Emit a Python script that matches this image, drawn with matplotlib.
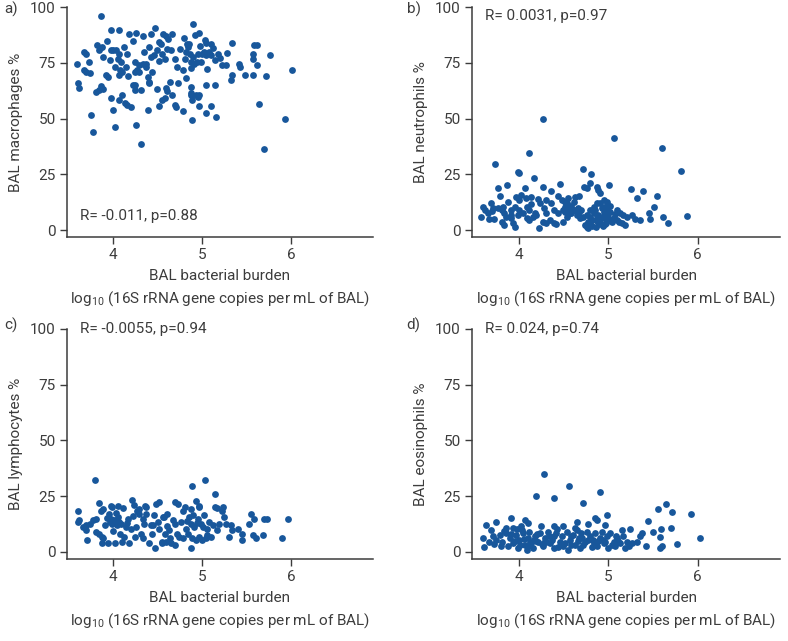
import matplotlib as mpl
mpl.use('Agg')
import matplotlib.pyplot as plt

mpl.rcParams['font.family'] = ['Roboto', 'DejaVu Sans']
mpl.rcParams['mathtext.fontset'] = 'custom'
mpl.rcParams['mathtext.rm'] = 'Roboto'

# a) macrophages
mac_x = [3.86, 3.97, 4.07, 4.18, 4.26, 4.33, 4.47, 4.42, 4.56, 4.66, 4.59, 4.90, 4.96, 4.92, 5.03,
         5.04, 5.10, 5.34, 5.58, 5.62, 5.76, 6.01, 3.59, 3.67, 3.69, 3.73, 3.67, 3.69, 3.74, 3.60,
         3.62, 3.82, 3.85, 3.87, 3.84, 3.93, 3.96, 3.97, 4.00, 4.03, 4.07, 4.05, 4.09, 4.08, 4.06,
         4.10, 4.16, 4.17, 4.22, 4.25, 4.27, 4.29, 4.33, 4.37, 4.37, 4.40, 4.42, 4.46, 4.49, 4.52,
         4.54, 4.55, 4.58, 4.60, 4.65, 4.69, 4.72, 4.78, 4.81, 4.82, 4.83, 4.85, 4.84, 4.86, 4.88,
         4.91, 4.94, 4.95, 4.99, 5.00, 5.02, 5.04, 5.08, 5.10, 5.15, 5.18, 5.22, 5.27, 5.28, 5.42,
         5.43, 5.34, 5.32, 5.48, 5.57, 5.57, 5.57, 5.62, 5.72, 3.94, 3.92, 3.81, 3.84, 3.86, 3.88,
         3.97, 4.00, 4.02, 4.06, 4.10, 4.13, 4.16, 4.20, 4.22, 4.25, 4.31, 4.26, 4.31, 4.39, 4.40,
         4.49, 4.51, 4.55, 4.58, 4.59, 4.60, 4.64, 4.66, 4.70, 4.71, 4.73, 4.78, 4.82, 4.87, 4.88,
         4.89, 4.87, 4.89, 4.93, 4.95, 4.97, 4.96, 5.04, 5.04, 5.10, 5.15, 5.16, 5.64, 5.70, 5.93,
         3.75, 3.77, 4.40, 4.39, 4.25, 4.24, 4.29, 3.89, 4.12, 4.14, 4.35, 4.51, 4.62, 4.75, 4.87,
         4.98, 5.06, 5.12, 5.20, 4.44, 4.02, 4.80, 4.90]
mac_y = [95.8, 89.9, 89.6, 87.8, 88.5, 86.9, 90.6, 88.1, 88.1, 88.1, 86.9, 92.5, 88.5, 87.6, 85.1,
         83.9, 83.6, 84.0, 83.1, 83.1, 78.4, 71.6, 74.6, 79.9, 79.1, 75.4, 71.6, 70.9, 70.4, 66.0,
         63.9, 82.8, 81.6, 82.1, 80.6, 84.8, 76.1, 80.9, 80.6, 80.9, 79.1, 76.9, 75.4, 71.6, 69.4,
         70.9, 79.1, 69.0, 84.8, 75.4, 71.6, 73.9, 74.6, 74.6, 73.1, 82.1, 77.6, 78.4, 80.6, 84.3,
         83.6, 79.1, 76.9, 81.3, 80.9, 76.9, 73.1, 71.9, 76.9, 79.9, 83.6, 83.6, 82.1, 79.1, 75.4,
         74.6, 75.4, 79.1, 75.4, 79.1, 79.9, 78.4, 79.9, 78.4, 76.1, 79.1, 73.9, 73.9, 79.4, 74.6,
         73.1, 69.4, 67.2, 69.4, 69.4, 79.1, 76.9, 73.9, 69.0, 68.7, 69.4, 61.9, 63.0, 64.5, 63.4,
         59.0, 53.7, 46.0, 58.2, 60.7, 57.0, 56.0, 55.2, 64.9, 62.7, 63.0, 47.0, 38.4, 54.0, 66.0,
         63.4, 55.5, 58.2, 59.0, 63.9, 62.4, 66.4, 60.7, 56.0, 55.2, 66.0, 53.4, 68.2, 64.2, 60.4,
         58.2, 61.5, 49.3, 60.4, 59.7, 60.7, 55.5, 64.9, 52.5, 55.5, 64.9, 50.7, 56.7, 36.4, 49.9,
         51.5, 43.9, 66.4, 68.7, 64.9, 70.9, 70.9, 77.5, 82.0, 73.0, 80.0, 76.0, 85.5, 81.0, 72.5,
         82.5, 72.0, 81.5, 77.0, 71.0, 73.0, 86.0, 77.5]

# b) neutrophils
neu_x = [4.27, 5.07, 5.60, 4.12, 3.74, 5.81, 5.88, 5.67, 5.61, 4.72, 4.81, 5.01, 5.25, 5.39, 5.32,
         5.54, 5.51, 5.46, 5.47, 5.36, 3.99, 4.00, 4.17, 4.46, 4.36, 4.27, 4.07, 3.87, 3.77, 3.79,
         3.97, 4.03, 4.08, 4.14, 4.22, 4.24, 4.31, 4.36, 4.44, 4.48, 4.52, 4.55, 4.57, 4.63, 4.67,
         4.73, 4.76, 4.80, 4.87, 4.89, 4.91, 4.95, 4.99, 5.02, 5.10, 5.13, 5.17, 5.21, 5.27, 3.60,
         3.62, 3.66, 3.69, 3.71, 3.58, 3.67, 3.73, 3.82, 3.84, 3.94, 3.96, 3.92, 3.99, 4.01, 4.05,
         4.09, 4.12, 4.16, 4.20, 4.23, 4.27, 4.31, 4.35, 4.39, 4.42, 4.50, 4.54, 4.57, 4.61, 4.65,
         4.69, 4.72, 4.74, 4.76, 4.78, 4.80, 4.82, 4.84, 4.85, 4.87, 4.89, 4.91, 4.93, 4.95, 4.97,
         4.99, 5.00, 5.02, 5.06, 5.10, 5.12, 5.15, 5.19, 3.83, 3.88, 3.92, 3.96, 4.09, 4.12, 4.18,
         4.31, 4.40, 4.44, 4.50, 4.52, 4.54, 4.55, 4.59, 4.63, 4.67, 4.70, 4.76, 4.80, 4.84, 4.87,
         4.91, 4.93, 4.95, 4.99, 5.02, 3.92, 4.01, 3.77, 3.81, 3.84, 3.86, 4.78, 4.82, 4.86, 4.90,
         4.94, 4.98, 4.80, 4.88, 4.96, 5.04, 4.58, 4.62, 4.66, 4.52, 5.08, 4.28, 4.14, 3.70, 5.30]
neu_y = [50.0, 41.4, 36.9, 34.7, 29.4, 26.6, 6.1, 3.0, 6.0, 27.2, 25.1, 20.2, 18.2, 17.5, 14.5,
         15.2, 10.2, 7.5, 4.8, 4.5, 26.2, 25.4, 23.3, 20.6, 17.6, 19.1, 18.7, 20.2, 19.0, 15.4,
         14.9, 15.7, 14.2, 14.9, 13.9, 12.0, 13.5, 12.0, 15.2, 13.5, 12.7, 14.5, 10.5, 14.9, 15.4,
         19.4, 18.7, 20.9, 19.1, 17.9, 16.4, 13.5, 12.7, 10.8, 9.0, 7.5, 6.7, 6.0, 6.7, 10.5,
         9.0, 7.5, 12.0, 9.7, 5.7, 4.9, 4.9, 3.7, 2.2, 3.0, 1.5, 5.2, 6.7, 9.0, 7.5,
         5.2, 4.5, 6.0, 6.7, 0.9, 3.7, 3.0, 4.5, 3.3, 2.7, 3.7, 6.0, 7.5, 9.0, 6.7,
         5.2, 6.0, 2.2, 1.5, 3.7, 3.0, 4.5, 7.5, 9.0, 5.2, 6.7, 3.7, 6.0, 8.2, 5.2,
         7.5, 6.0, 4.5, 5.2, 4.5, 3.7, 3.3, 2.2, 10.5, 12.7, 9.0, 10.5, 10.5, 9.0, 7.5,
         7.5, 9.0, 7.5, 9.0, 10.5, 12.0, 9.0, 7.5, 9.0, 8.2, 9.0, 6.7, 9.0, 10.5, 12.0,
         12.0, 9.7, 10.5, 9.7, 8.2, 6.7, 13.5, 9.7, 9.0, 7.5, 6.0, 1.0, 2.0, 1.2, 2.5,
         1.8, 3.0, 5.8, 4.2, 2.8, 3.5, 11.0, 12.5, 10.0, 8.0, 7.0, 10.0, 11.5, 8.5, 5.0]

# c) lymphocytes
lym_x = [3.79, 5.03, 4.89, 5.15, 3.84, 3.88, 3.98, 4.05, 4.11, 4.21, 4.23, 4.29, 4.36, 4.37, 4.48,
         4.52, 4.69, 4.73, 4.81, 4.88, 4.93, 4.96, 5.17, 5.24, 3.60, 3.62, 3.60, 3.69, 3.69, 3.71,
         3.74, 3.81, 3.87, 3.87, 3.89, 3.91, 3.94, 3.95, 3.96, 3.97, 3.99, 4.01, 4.02, 4.04, 4.05,
         4.07, 4.09, 4.08, 4.10, 4.12, 4.14, 4.17, 4.18, 4.20, 4.25, 4.27, 4.29, 4.31, 4.33, 4.35,
         4.37, 4.40, 4.42, 4.44, 4.46, 4.47, 4.50, 4.52, 4.55, 4.55, 4.56, 4.58, 4.59, 4.61, 4.63,
         4.65, 4.67, 4.69, 4.70, 4.72, 4.74, 4.76, 4.78, 4.79, 4.82, 4.84, 4.85, 4.87, 4.88, 4.89,
         4.91, 4.93, 4.95, 4.97, 4.97, 4.99, 5.00, 5.02, 5.04, 5.06, 5.08, 5.10, 5.12, 5.15, 5.17,
         5.19, 5.22, 5.25, 5.27, 5.30, 5.32, 5.34, 5.40, 5.45, 5.45, 5.53, 5.55, 5.57, 5.58, 5.61,
         5.68, 5.70, 5.73, 5.90, 5.97, 3.77, 3.66, 3.86, 3.99, 3.81, 3.84, 3.93, 4.03, 4.15, 4.22,
         4.34, 4.45, 4.57, 4.64, 4.83, 4.94, 5.01, 5.05, 4.90, 4.60, 4.00, 4.26]
lym_y = [32.0, 32.0, 29.7, 26.0, 22.0, 19.4, 20.7, 20.7, 19.8, 23.4, 21.0, 19.4, 20.7, 20.0, 21.5,
         22.5, 22.5, 21.5, 20.0, 19.0, 22.8, 20.0, 19.6, 20.0, 18.5, 14.1, 13.4, 11.9, 9.7, 5.3,
         12.6, 14.9, 6.8, 3.8, 6.0, 11.9, 3.8, 17.1, 13.4, 14.9, 12.6, 14.1, 3.8, 11.9, 15.6,
         13.4, 12.6, 8.2, 4.6, 6.8, 11.2, 14.9, 3.8, 10.4, 6.8, 18.5, 17.1, 8.2, 6.0, 12.6,
         17.1, 3.8, 11.9, 8.2, 16.3, 1.6, 13.4, 10.4, 4.6, 3.8, 15.6, 8.2, 4.6, 17.1, 9.7,
         3.8, 14.1, 3.1, 12.6, 8.2, 6.8, 13.4, 18.5, 6.0, 10.4, 8.2, 15.6, 12.6, 1.6, 6.0,
         11.2, 5.3, 14.9, 20.7, 6.8, 12.6, 5.3, 16.3, 6.0, 10.4, 13.4, 6.8, 11.9, 20.0, 9.7,
         12.6, 18.5, 15.6, 12.6, 6.8, 11.9, 9.7, 10.4, 5.3, 8.2, 12.6, 17.1, 7.5, 14.9, 6.0,
         7.5, 14.9, 14.9, 6.0, 14.9, 14.1, 11.2, 18.5, 20.0, 9.0, 8.2, 15.0, 17.5, 13.0, 16.0,
         14.5, 12.0, 15.5, 6.0, 14.0, 13.0, 11.0, 7.5, 16.5, 11.5, 9.5, 11.0]

# d) eosinophils
eos_x = [4.28, 4.56, 4.91, 4.20, 4.40, 4.72, 5.65, 5.56, 5.71, 5.93, 4.99, 3.91, 4.07, 4.85, 4.88,
         5.45, 3.64, 3.75, 3.69, 4.10, 4.03, 3.94, 4.25, 4.40, 4.50, 4.65, 4.63, 4.78, 4.97, 5.24,
         5.38, 5.50, 5.59, 5.70, 5.58, 5.77, 5.58, 6.02, 3.60, 3.61, 3.67, 3.71, 3.75, 3.79, 3.82,
         3.86, 3.88, 3.90, 3.94, 3.97, 3.99, 4.01, 4.05, 4.07, 4.09, 4.10, 4.12, 4.14, 4.16, 4.18,
         4.22, 4.24, 4.27, 4.29, 4.33, 4.35, 4.39, 4.40, 4.42, 4.46, 4.48, 4.50, 4.54, 4.55, 4.57,
         4.61, 4.63, 4.65, 4.67, 4.69, 4.70, 4.74, 4.76, 4.80, 4.84, 4.85, 4.87, 4.91, 4.93, 4.95,
         4.99, 5.00, 5.02, 5.06, 5.08, 5.10, 5.13, 5.17, 5.19, 5.21, 5.27, 5.32, 5.36, 5.42, 5.60,
         5.15, 3.73, 3.80, 3.84, 3.92, 3.96, 4.02, 4.06, 4.13, 4.19, 4.26, 4.31, 4.37, 4.44, 4.52,
         4.59, 4.66, 4.72, 4.78, 4.82, 4.89, 4.94, 5.04, 5.11, 5.23, 3.98, 4.11, 4.21, 4.34, 4.47,
         4.58, 4.71, 4.83, 4.96, 5.09, 3.86, 4.04, 4.17, 4.30, 4.43]
eos_y = [35.0, 29.7, 27.0, 25.2, 24.3, 22.0, 21.6, 19.4, 18.0, 17.0, 16.7, 15.3, 14.4, 15.3, 14.4,
         14.0, 12.1, 13.2, 9.9, 12.9, 11.4, 10.6, 11.4, 11.4, 11.7, 13.2, 10.6, 12.6, 12.1, 10.2,
         8.4, 8.8, 10.2, 10.6, 6.6, 3.4, 1.6, 6.1, 6.1, 2.1, 4.2, 6.9, 5.4, 7.6, 4.6,
         8.4, 2.4, 6.1, 3.9, 7.6, 1.6, 5.4, 8.4, 3.1, 0.9, 6.1, 9.1, 3.9, 1.6, 6.9,
         4.6, 8.4, 2.4, 6.1, 9.1, 3.9, 6.9, 1.6, 8.4, 4.6, 6.9, 2.4, 9.1, 0.9, 5.4,
         7.6, 3.1, 9.9, 6.1, 1.6, 8.4, 4.6, 9.1, 6.9, 3.9, 8.4, 2.4, 6.1, 9.1, 3.9,
         6.9, 1.6, 8.4, 4.6, 2.4, 6.1, 3.9, 6.9, 1.6, 4.6, 3.9, 4.6, 6.9, 2.4, 2.4,
         9.9, 3.5, 2.8, 9.5, 8.0, 4.8, 3.0, 5.9, 4.2, 5.0, 3.3, 4.4, 5.5, 2.0, 4.0,
         3.2, 5.0, 3.0, 5.4, 2.2, 4.8, 5.3, 2.9, 4.9, 2.7, 10.2, 2.5, 7.8, 7.1, 3.0,
         7.0, 6.3, 5.5, 4.5, 7.3, 10.5, 10.0, 5.2, 4.9, 10.1]

panels = [
    ('a)', mac_x, mac_y, 'BAL macrophages %', 'R= -0.011, p=0.88', 6.5),
    ('b)', neu_x, neu_y, 'BAL neutrophils %', 'R= 0.0031, p=0.97', 96),
    ('c)', lym_x, lym_y, 'BAL lymphocytes %', 'R= -0.0055, p=0.94', 100),
    ('d)', eos_x, eos_y, 'BAL eosinophils %', 'R= 0.024, p=0.74', 100),
]

txt = '#3c3c3c'
dot = '#18579b'

fig = plt.figure(figsize=(7.88, 6.41), dpi=100)
rects = [
    [0.085, 0.630, 0.388, 0.359],
    [0.599, 0.630, 0.391, 0.359],
    [0.085, 0.128, 0.388, 0.359],
    [0.599, 0.128, 0.391, 0.359],
]
label_pos = [(0.006, 0.985), (0.516, 0.985), (0.006, 0.493), (0.516, 0.493)]

for i, (tag, xs, ys, ylab, stat, ty) in enumerate(panels):
    ax = fig.add_axes(rects[i])
    ax.scatter(xs, ys, s=24, color=dot, linewidths=0, zorder=3)
    ax.set_xlim(3.48, 6.92)
    ax.set_ylim(-3.2, 100)
    ax.set_xticks([4, 5, 6])
    ax.set_yticks([0, 25, 50, 75, 100])
    for s in ['top', 'right']:
        ax.spines[s].set_visible(False)
    for s in ['left', 'bottom']:
        ax.spines[s].set_color(txt)
        ax.spines[s].set_linewidth(1.1)
    ax.tick_params(colors=txt, labelsize=11, length=5, width=1.0, pad=3)
    ax.set_ylabel(ylab, fontsize=11, color=txt, labelpad=5)
    ax.set_xlabel('BAL bacterial burden\nlog$_{10}$ (16S rRNA gene copies per mL of BAL)',
                  fontsize=11, color=txt, labelpad=5, linespacing=1.45)
    ax.text(3.63, ty, stat, fontsize=11, color=txt, va='center', ha='left')
    fig.text(label_pos[i][0], label_pos[i][1], tag, fontsize=11, color=txt, va='center', ha='left')

fig.savefig('out.png', dpi=100)
